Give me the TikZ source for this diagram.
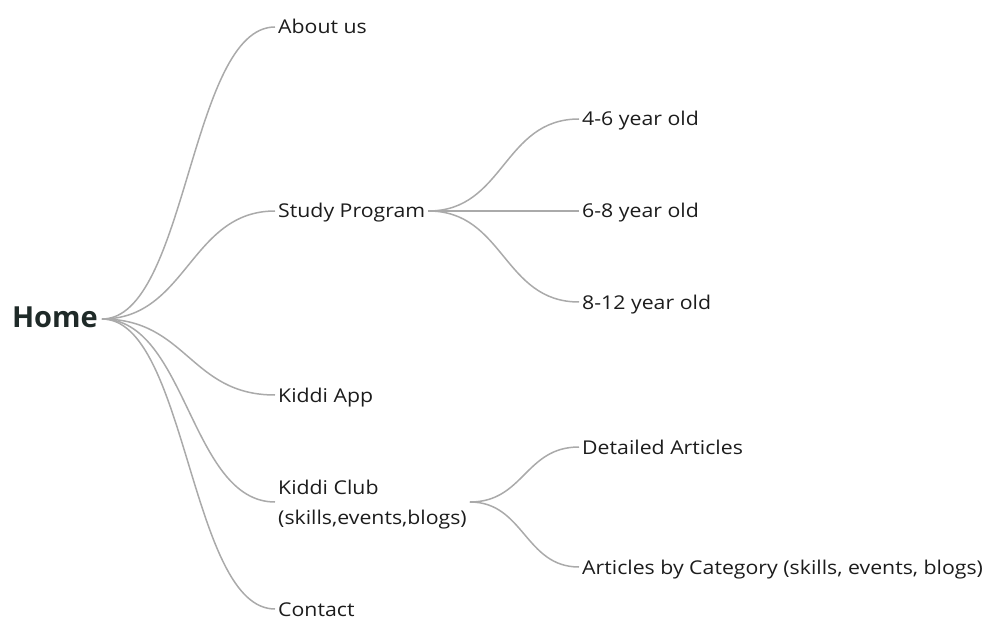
\documentclass[tikz,border=0pt]{standalone}
\usepackage{fontspec}
\setmainfont[FakeStretch=1.12]{Open Sans}
\newfontfamily\homefont{Open Sans}
\begin{document}
\begin{tikzpicture}[x=1pt,y=-1pt,
  leaf/.style={anchor=west,inner xsep=3pt,inner ysep=0pt,text=txt,font=\fontsize{19}{30}\selectfont,align=left,text height=14pt,text depth=0pt},
  link/.style={draw=lnk,line width=1.5pt}]
\definecolor{txt}{HTML}{1C1C1C}
\definecolor{homec}{HTML}{1F2A28}
\definecolor{lnk}{HTML}{AAAAAA}
\useasboundingbox (0,0) rectangle (996,636);
\node[anchor=east,inner xsep=4pt,inner ysep=0pt,text height=16pt,text depth=0pt,font=\homefont\fontsize{29}{30}\selectfont\bfseries,text=homec] (home) at (102,319) {Home};
\node[leaf] (about) at (275,27) {About us};
\node[leaf] (study) at (275,211) {Study Program};
\node[leaf] (app) at (275,395) {Kiddi App};
\node[leaf,text height=44pt,text depth=0pt] (club) at (275,502) {Kiddi Club\\(skills,events,blogs)};
\node[leaf] (contact) at (275,609) {Contact};
\node[leaf] (a46) at (579,119) {4-6 year old};
\node[leaf] (a68) at (579,211) {6-8 year old};
\node[leaf] (a812) at (579,302) {8-12 year old};
\node[leaf] (det) at (579,447) {Detailed Articles};
\node[leaf] (cat) at (579,567) {Articles by Category (skills, events, blogs)};
\foreach \t in {about,study,app,club,contact}
  \draw[link] (home.east) .. controls +(85,0) and +(-85,0) .. (\t.west);
\foreach \t in {a46,a68,a812}
  \draw[link] (study.east) .. controls +(76,0) and +(-76,0) .. (\t.west);
\foreach \t in {det,cat}
  \draw[link] (club.east) .. controls +(54,0) and +(-54,0) .. (\t.west);
\end{tikzpicture}
\end{document}
